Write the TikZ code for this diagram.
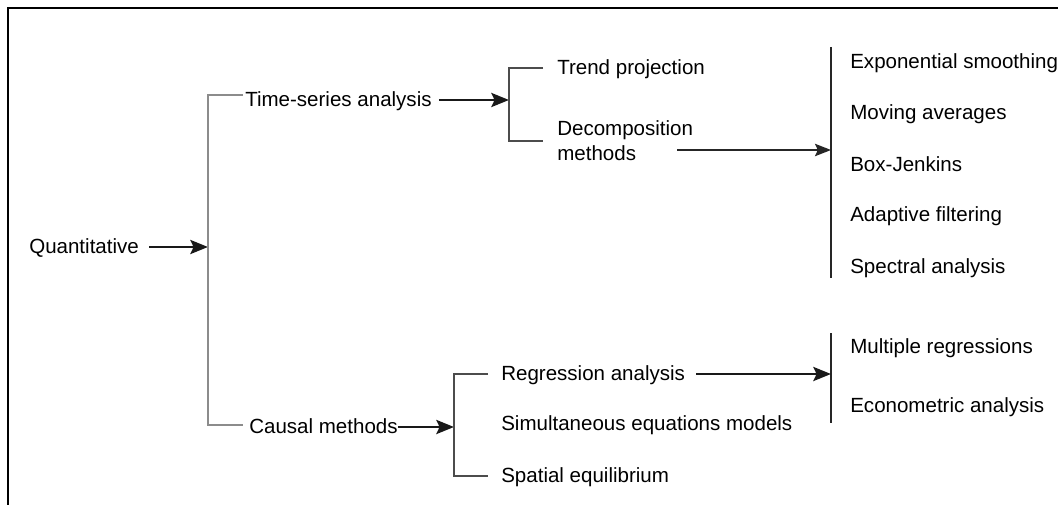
\documentclass[tikz,border=0pt]{standalone}
\usepackage{fontspec}
\setmainfont{Liberation Sans}
\usetikzlibrary{arrows.meta}

\begin{document}
\begin{tikzpicture}[x=0.025cm,y=-0.025cm,
    item/.style={anchor=west,inner sep=0pt,font=\labelfont},
    lbl/.style={item,text height=0.9em,text depth=0pt},
    bigarrow/.style={-{Stealth[length=4.4mm,width=3.5mm,inset=0.8mm]},line width=2pt,black!90},
    thinarrow/.style={-{Stealth[length=4mm,width=3.1mm,inset=0.7mm]},line width=1.1pt,black!85},
    graybracket/.style={line width=1.3pt,black!45},
    bracketline/.style={line width=1.1pt,black!70},
    listbar/.style={line width=1.1pt,black!85}]
    \pgfmathsetmacro{\barx}{831}
    \pgfmathsetmacro{\listx}{850}
    \providecommand{\labelfont}{\fontsize{14.6pt}{17.7pt}\selectfont}
    \useasboundingbox (0,0) rectangle (1058,505);
    % frame, cut off at right and bottom
    \draw[line width=1.4pt] (8,505) -- (8,8) -- (1058,8);
    % first level
    \node[lbl] (quant) at (29,247) {Quantitative};
    \node[lbl] (ts) at (245,100) {Time-series analysis};
    \node[lbl] (cm) at (249,427) {Causal methods};
    \coordinate (qbr) at (208,247);
    \draw[bigarrow,shorten <=2.5mm] (quant) -- (qbr);
    \draw[graybracket,shorten <=0.5mm,shorten >=1.5mm] ([yshift=3.5pt]ts.west) -| (qbr) |- ([yshift=1.4pt]cm.west);
    % time series
    \node[lbl] (trend) at (557,68) {Trend projection};
    \node[item,align=left] (decomp) at (557,141) {Decomposition\\methods};
    \coordinate (tbr) at (509,100);
    \draw[bigarrow,shorten <=1.75mm] (ts) -- (tbr);
    \draw[bracketline,shorten <=3.5mm,shorten >=3.5mm] (trend.west) -| (tbr) |- (decomp.west);
    \coordinate (bartop) at (\barx,47);
    \coordinate (barbot) at (\barx,278);
    \draw[listbar] (bartop) -- (barbot);
    \coordinate (dstart) at (677,150);
    \draw[thinarrow] (dstart) -- (dstart -| bartop);
    \node[lbl] (expo) at (\listx,62) {Exponential smoothing};
    \node[lbl] (mavg) at (\listx,113) {Moving averages};
    \node[lbl] (boxj) at (\listx,165) {Box-Jenkins};
    \node[lbl] (adapt) at (\listx,215) {Adaptive filtering};
    \node[lbl] (spec) at (\listx,267) {Spectral analysis};
    % causal methods
    \node[lbl] (reg) at (501,374) {Regression analysis};
    \node[lbl] (simul) at (501,424) {Simultaneous equations models};
    \node[lbl] (spat) at (501,476) {Spatial equilibrium};
    \coordinate (cbr) at (454,427);
    \draw[bigarrow] (cm) -- (cbr);
    \draw[bracketline,shorten <=3.25mm,shorten >=3.25mm] (reg.west) -| (cbr) |- (spat.west);
    \coordinate (regtop) at (\barx,333);
    \coordinate (regbot) at (\barx,423);
    \draw[listbar] (regtop) -- (regbot);
    \draw[bigarrow,shorten <=2.75mm] (reg) -- (reg -| regtop);
    \node[lbl] (multi) at (\listx,347) {Multiple regressions};
    \node[lbl] (econ) at (\listx,406) {Econometric analysis};
\end{tikzpicture}
\end{document}
